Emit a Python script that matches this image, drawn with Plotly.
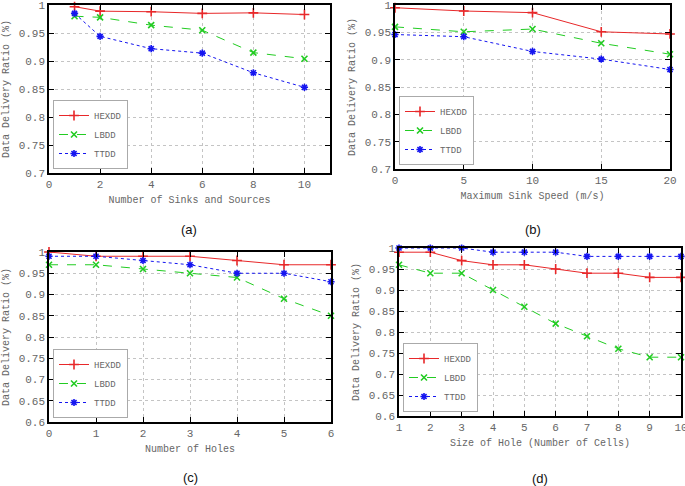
import plotly.graph_objects as go

series_names = ["HEXDD", "LBDD", "TTDD"]

# (a) Number of sinks and sources
a_x = [1, 2, 4, 6, 8, 10]
a_hexdd = [0.997, 0.989, 0.988, 0.985, 0.986, 0.983]
a_lbdd = [0.980, 0.978, 0.964, 0.955, 0.915, 0.904]
a_ttdd = [0.985, 0.944, 0.922, 0.914, 0.879, 0.853]

# (b) Maximum sink speed
b_x = [0, 5, 10, 15, 20]
b_hexdd = [0.995, 0.989, 0.986, 0.951, 0.947]
b_lbdd = [0.960, 0.951, 0.956, 0.930, 0.910]
b_ttdd = [0.946, 0.942, 0.915, 0.901, 0.882]

# (c) Number of holes
c_x = [0, 1, 2, 3, 4, 5, 6]
c_hexdd = [1.00, 0.99, 0.99, 0.99, 0.98, 0.97, 0.97]
c_lbdd = [0.97, 0.97, 0.96, 0.95, 0.94, 0.89, 0.85]
c_ttdd = [0.99, 0.99, 0.98, 0.97, 0.95, 0.95, 0.93]

# (d) Size of hole
d_x = [1, 2, 3, 4, 5, 6, 7, 8, 9, 10]
d_hexdd = [0.99, 0.99, 0.97, 0.96, 0.96, 0.95, 0.94, 0.94, 0.93, 0.93]
d_lbdd = [0.96, 0.94, 0.94, 0.90, 0.86, 0.82, 0.79, 0.76, 0.74, 0.74]
d_ttdd = [1.00, 1.00, 1.00, 0.99, 0.99, 0.99, 0.98, 0.98, 0.98, 0.98]

x_titles = ["Number of Sinks and Sources", "Maximum Sink Speed (m/s)",
            "Number of Holes", "Size of Hole (Number of Cells)"]
captions = ["(a)", "(b)", "(c)", "(d)"]
y_title = "Data Delivery Ratio (%)"

W, H = 685, 486
MONO = "Liberation Mono"
TXT = "#666"

styles = [
    dict(color="#e8282a", dash="solid", symbol="cross-thin", size=7),
    dict(color="#22cc22", dash="dash", symbol="x-thin", size=6),
    dict(color="#1515f0", dash="dot", symbol="asterisk-open", size=6),
]

# plot boxes in pixels: (x0, x1, y0(top), y1(bottom))
boxes = [(49, 330, 5, 173), (395, 670, 5, 169), (49, 331, 252, 422), (399, 681, 248, 416)]
xranges = [[0, 11], [0, 20], [0, 6], [1, 10]]
xdticks = [2, 5, 1, 1]
yranges = [[0.7, 1.0], [0.7, 1.0], [0.6, 1.0], [0.6, 1.0]]
cap_y = [230, 230, 477, 478]

panels = [
    (a_x, [a_hexdd, a_lbdd, a_ttdd]),
    (b_x, [b_hexdd, b_lbdd, b_ttdd]),
    (c_x, [c_hexdd, c_lbdd, c_ttdd]),
    (d_x, [d_hexdd, d_lbdd, d_ttdd]),
]

fig = go.Figure()
layout = dict(width=W, height=H, margin=dict(l=0, r=0, t=0, b=0, autoexpand=False),
              paper_bgcolor="white", plot_bgcolor="white", template="none",
              font=dict(family=MONO, size=10, color=TXT))
annotations = []

for i, (xs, ys_list) in enumerate(panels):
    n = "" if i == 0 else str(i + 1)
    leg = "legend" if i == 0 else f"legend{i + 1}"
    for name, ys, st in zip(series_names, ys_list, styles):
        fig.add_trace(go.Scatter(
            x=xs, y=ys, name=name, mode="lines+markers",
            line=dict(color=st["color"], dash=st["dash"], width=1),
            marker=dict(symbol=st["symbol"], size=st["size"], color=st["color"],
                        line=dict(color=st["color"], width=1.6)),
            xaxis="x" + n, yaxis="y" + n, legend=leg, cliponaxis=False))
    x0, x1, y0, y1 = boxes[i]
    common = dict(showline=True, linecolor="black", linewidth=1.5, mirror="ticks",
                  ticks="inside", ticklen=5, tickcolor="black", tickwidth=1,
                  showgrid=True, gridcolor="#c4c4c4", griddash="dot", gridwidth=1,
                  zeroline=False, ticklabeloverflow="allow", automargin=False,
                  tickfont=dict(family=MONO, size=11, color=TXT))
    layout["xaxis" + n] = dict(common, domain=[x0 / W, x1 / W], range=xranges[i],
                               dtick=xdticks[i], tick0=0, anchor="y" + n,
                               title=dict(text=x_titles[i], standoff=6,
                                          font=dict(family=MONO, size=10, color=TXT)))
    layout["yaxis" + n] = dict(common, domain=[1 - y1 / H, 1 - y0 / H], range=yranges[i],
                               dtick=0.05, tick0=0, anchor="x" + n,
                               title=dict(text=y_title, standoff=7,
                                          font=dict(family=MONO, size=10, color=TXT)))
    layout[leg] = dict(x=(x0 + 4) / W, y=1 - (y1 - 4) / H, xanchor="left", yanchor="bottom",
                       bgcolor="white", bordercolor="#aaa", borderwidth=1,
                       font=dict(family=MONO, size=9, color=TXT),
                       tracegroupgap=0, itemwidth=30)
    cx = (x0 + x1) / 2
    annotations.append(dict(text=captions[i], xref="paper", yref="paper",
                            x=cx / W, y=1 - cap_y[i] / H, xanchor="center", yanchor="middle",
                            showarrow=False,
                            font=dict(family="Liberation Sans", size=13, color="#111")))

layout["annotations"] = annotations
fig.update_layout(**layout)
fig.write_html("out.html", config={"displayModeBar": False},
               post_script="document.body.style.margin='0';document.body.style.overflow='hidden';")
